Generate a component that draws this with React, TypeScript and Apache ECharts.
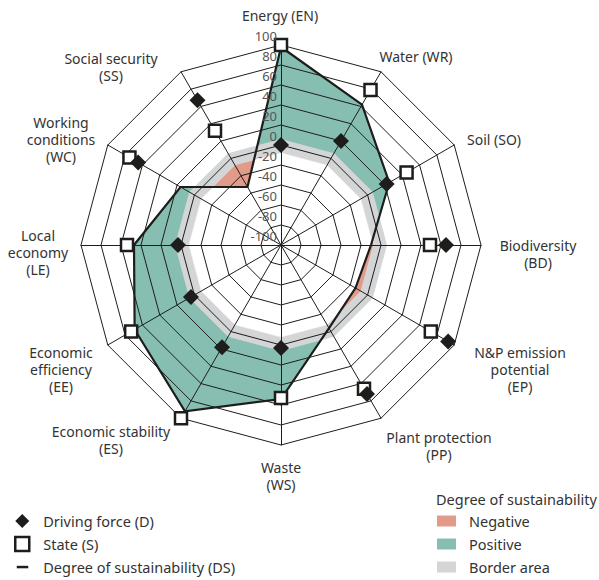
import React, { useEffect, useRef } from 'react';
import * as echarts from 'echarts';

// Indicators listed counter-clockwise from the top (ECharts radar order)
const INDICATORS = [
  'Energy (EN)',
  'Social security (SS)',
  'Working conditions (WC)',
  'Local economy (LE)',
  'Economic efficiency (EE)',
  'Economic stability (ES)',
  'Waste (WS)',
  'Plant protection (PP)',
  'N&P emission potential (EP)',
  'Biodiversity (BD)',
  'Soil (SO)',
  'Water (WR)',
];
const NAME_LINES = [
  ['Energy (EN)'],
  ['Social security', '(SS)'],
  ['Working', 'conditions', '(WC)'],
  ['Local', 'economy', '(LE)'],
  ['Economic', 'efficiency', '(EE)'],
  ['Economic stability', '(ES)'],
  ['Waste', '(WS)'],
  ['Plant protection', '(PP)'],
  ['N&P emission', 'potential', '(EP)'],
  ['Biodiversity', '(BD)'],
  ['Soil (SO)'],
  ['Water (WR)'],
];
const DRIVING_FORCE = [0, 67, 65, 3, 4, 18, 3, 72, 93, 65, 22, 20];
const STATE = [100, 32, 75, 54, 73, 100, 53, 66, 73, 49, 45, 79];
const DEGREE = [98, -33, 16, 47, 69, 92, 54, -4, -14, -10, 25, 62];
const BORDER_LOW = -8;
const BORDER_HIGH = 6;
const AXIS_MIN = -100;
const AXIS_MAX = 100;
const AXIS_STEP = 20;

// layout (label block centres)
const NAME_POS = [
  [280, 15], [111, 67], [61, 139], [38, 252], [61, 369], [111, 440],
  [281, 476], [439, 446], [520, 369], [538, 254], [494, 139], [416, 56],
];
const CENTER = [281, 245];
const RADIUS = 200;
const FONT = 'Noto Sans';
const COL = {
  negative: '#e29b88',
  positive: '#86bfb2',
  border: '#d4d5d7',
  ink: '#1d1d1b',
  text: '#333333',
};

function ringPoints(api: any, values: number[]) {
  return values.map((v, i) => api.coord([v, (360 / values.length) * i]));
}
function intersect(p1: number[], p2: number[], p3: number[], p4: number[]) {
  const d = (p1[0] - p2[0]) * (p3[1] - p4[1]) - (p1[1] - p2[1]) * (p3[0] - p4[0]);
  const t = ((p1[0] - p3[0]) * (p3[1] - p4[1]) - (p1[1] - p3[1]) * (p3[0] - p4[0])) / d;
  return [p1[0] + t * (p2[0] - p1[0]), p1[1] + t * (p2[1] - p1[1])];
}
function lowerEnvelope(api: any, a: number[], b: number[]) {
  const pa = ringPoints(api, a);
  const pb = ringPoints(api, b);
  const n = a.length;
  const out: number[][] = [];
  for (let i = 0; i < n; i++) {
    const j = (i + 1) % n;
    out.push(a[i] <= b[i] ? pa[i] : pb[i]);
    const s0 = a[i] - b[i];
    const s1 = a[j] - b[j];
    if (s0 * s1 < 0) out.push(intersect(pa[i], pa[j], pb[i], pb[j]));
  }
  return out;
}

export default function App() {
  const ref = useRef<HTMLDivElement>(null);
  useEffect(() => {
    if (!ref.current) return;
    const chart = echarts.init(ref.current, undefined, { renderer: 'svg' });
    const lowRing = DEGREE.map(() => BORDER_LOW);
    const highRing = DEGREE.map(() => BORDER_HIGH);
    const fillSeries = (name: string, z: number, fill: string, pts: (api: any) => number[][], stroke?: string) => ({
      type: 'custom',
      name,
      coordinateSystem: 'polar',
      z,
      silent: true,
      data: [[0, 0]],
      renderItem: (_p: any, api: any) => ({
        type: 'polygon',
        shape: { points: pts(api) },
        style: stroke ? { fill, stroke, lineWidth: 0.6 } : { fill },
      }),
    });
    const textStyle = { fontFamily: FONT, fontSize: 14.5, color: COL.text, lineHeight: 17 };
    chart.setOption({
      animation: false,
      backgroundColor: '#fff',
      title: {
        text: 'Degree of sustainability',
        left: 436,
        top: 490,
        padding: 0,
        textStyle: { ...textStyle, fontWeight: 'normal' },
      },
      legend: [
        {
          orient: 'vertical',
          left: 14,
          top: 512.5,
          padding: 0,
          itemWidth: 14,
          itemHeight: 14,
          itemGap: 6,
          selectedMode: false,
          textStyle: { ...textStyle, padding: [0, 0, 0, 9] },
          data: [
            { name: 'Driving force (D)', icon: 'diamond', itemStyle: { color: COL.ink, borderWidth: 0 } },
            { name: 'State (S)', icon: 'rect', itemStyle: { color: '#fff', borderColor: COL.ink, borderWidth: 2.5 } },
            {
              name: 'Degree of sustainability (DS)',
              icon: 'path://M0,0 L0,0 M1.5,5.8 L13,5.8 L13,8.3 L1.5,8.3 Z M14,14 L14,14',
              itemStyle: { color: COL.ink, borderWidth: 0 },
            },
          ],
        },
        {
          orient: 'vertical',
          left: 437,
          top: 512.5,
          padding: 0,
          itemWidth: 19,
          itemHeight: 11,
          itemGap: 6,
          selectedMode: false,
          textStyle: { ...textStyle, padding: [0, 0, 0, 8] },
          data: [
            { name: 'Negative', icon: 'rect', itemStyle: { color: COL.negative, borderWidth: 0 } },
            { name: 'Positive', icon: 'rect', itemStyle: { color: COL.positive, borderWidth: 0 } },
            { name: 'Border area', icon: 'rect', itemStyle: { color: COL.border, borderWidth: 0 } },
          ],
        },
      ],
      radar: {
        center: CENTER,
        radius: RADIUS,
        startAngle: 90,
        shape: 'polygon',
        splitNumber: (AXIS_MAX - AXIS_MIN) / AXIS_STEP,
        z: 10,
        indicator: INDICATORS.map((name) => ({ name, min: AXIS_MIN, max: AXIS_MAX })),
        axisName: { show: false },
        axisLine: { lineStyle: { color: COL.ink, width: 1 } },
        splitLine: { lineStyle: { color: COL.ink, width: 1 } },
        splitArea: { show: false },
        axisTick: { show: false },
        axisLabel: { show: false },
      },
      polar: { center: CENTER, radius: RADIUS },
      angleAxis: {
        type: 'value',
        min: 0,
        max: 360,
        startAngle: 90,
        clockwise: false,
        show: false,
      },
      radiusAxis: {
        type: 'value',
        min: AXIS_MIN,
        max: AXIS_MAX,
        interval: AXIS_STEP,
        z: 30,
        axisLine: { show: false },
        axisTick: { show: false },
        splitLine: { show: false },
        axisLabel: {
          show: true,
          fontFamily: FONT,
          fontSize: 13,
          color: '#555',
          align: 'right',
          verticalAlign: 'bottom',
          padding: [0, 0, 3, 0],
          margin: 4,
        },
      },
      graphic: NAME_LINES.map((lines, i) => ({
        type: 'text',
        x: NAME_POS[i][0],
        y: NAME_POS[i][1],
        z: 50,
        silent: true,
        style: {
          text: lines.join('\n'),
          fill: COL.text,
          fontFamily: FONT,
          fontSize: 14,
          lineHeight: 17,
          align: 'center',
          verticalAlign: 'middle',
        },
      })),
      series: [
        fillSeries('Positive', 1, COL.positive, (api) => ringPoints(api, DEGREE)),
        fillSeries('Border area', 2, COL.border, (api) => ringPoints(api, highRing)),
        fillSeries('Negative', 3, COL.negative, (api) => ringPoints(api, lowRing)),
        fillSeries('inner', 4, '#fff', (api) => lowerEnvelope(api, DEGREE, lowRing), '#fff'),
        {
          type: 'radar',
          name: 'Degree of sustainability (DS)',
          z: 20,
          silent: true,
          symbol: 'none',
          lineStyle: { color: COL.ink, width: 2.2, join: 'miter' },
          itemStyle: { color: COL.ink },
          data: [{ value: DEGREE, name: 'Degree of sustainability (DS)' }],
        },
        {
          type: 'radar',
          name: 'State (S)',
          z: 21,
          silent: true,
          symbol: 'rect',
          symbolSize: 12,
          itemStyle: { color: '#fff', borderColor: COL.ink, borderWidth: 2.5 },
          lineStyle: { opacity: 0, width: 0 },
          data: [{ value: STATE, name: 'State (S)' }],
        },
        {
          type: 'radar',
          name: 'Driving force (D)',
          z: 22,
          silent: true,
          symbol: 'diamond',
          symbolSize: 16,
          itemStyle: { color: COL.ink, borderWidth: 0 },
          lineStyle: { opacity: 0, width: 0 },
          data: [{ value: DRIVING_FORCE, name: 'Driving force (D)' }],
        },
      ],
    });
    return () => chart.dispose();
  }, []);
  return (
    <div
      ref={ref}
      style={{ position: 'fixed', left: 0, top: 0, width: 599, height: 580, background: '#fff' }}
    />
  );
}
